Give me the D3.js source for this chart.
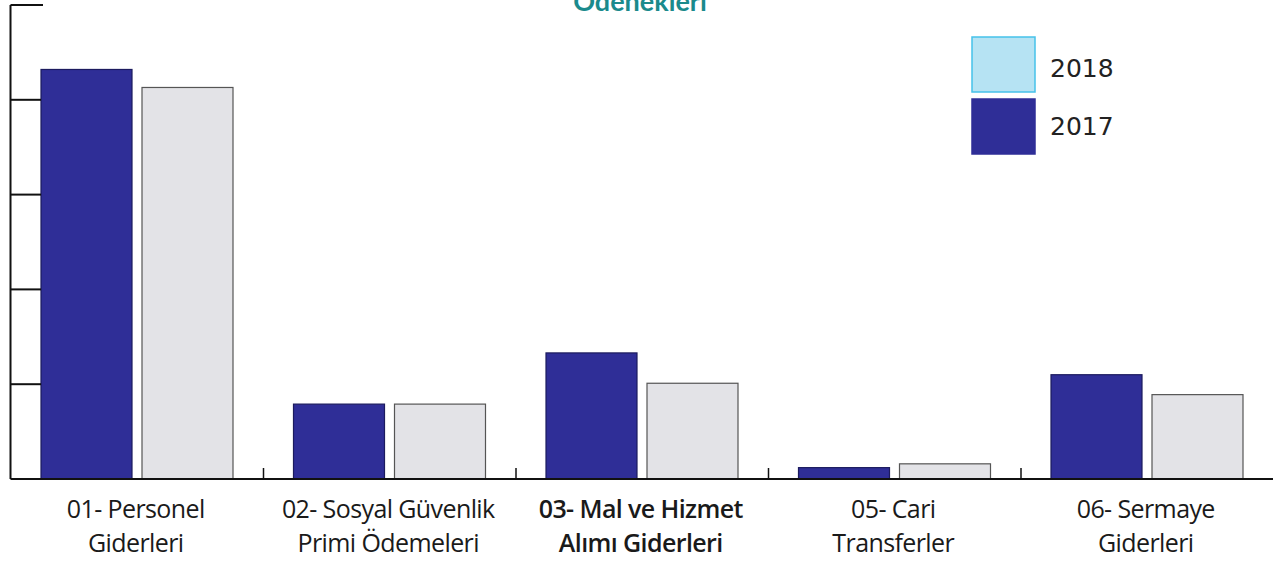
<!DOCTYPE html>
<html>
<head>
<meta charset="utf-8">
<script src="https://cdn.jsdelivr.net/npm/d3@7"></script>
<style>
  body { margin: 0; background: #fff; }
  svg { display: block; }
</style>
</head>
<body>
<svg id="chart" width="1273" height="565"></svg>
<script>
// categories and values (no y labels in the original, read in tick units)
const categories = [
  ['01- Personel', 'Giderleri'],
  ['02- Sosyal Güvenlik', 'Primi Ödemeleri'],
  ['03- Mal ve Hizmet', 'Alımı Giderleri'],
  ['05- Cari', 'Transferler'],
  ['06- Sermaye', 'Giderleri']
];
const boldCategory = 2;
const values2017 = [4.32, 0.79, 1.33, 0.12, 1.10];
const values2018 = [4.13, 0.79, 1.01, 0.16, 0.89];
const yTicks = [0, 1, 2, 3, 4, 5];
const legendItems = ['2018', '2017'];

const svg = d3.select('#chart');

const x0 = d3.scaleBand()
  .domain(d3.range(categories.length))
  .range([10.5, 1273])
  .paddingInner(0)
  .paddingOuter(0);

const y = d3.scaleLinear()
  .domain([0, 5])
  .range([479, 5]);

// title, cut at the top edge like the source
svg.append('text')
  .attr('x', 640)
  .attr('y', 11)
  .attr('text-anchor', 'middle')
  .attr('font-family', 'Lato, sans-serif')
  .attr('font-weight', 'bold')
  .attr('font-size', 27)
  .attr('fill', '#1b8a8c')
  .text('Ödenekleri');

// bars
const barW = 91;
const gap = 10;
const groupOffset = 30.5;

const groups = svg.selectAll('g.cat')
  .data(categories.map((c, i) => ({ i, v17: values2017[i], v18: values2018[i] })))
  .enter()
  .append('g')
  .attr('class', 'cat')
  .attr('transform', d => `translate(${x0(d.i)},0)`);

groups.append('rect')
  .attr('x', groupOffset)
  .attr('y', d => y(d.v17))
  .attr('width', barW)
  .attr('height', d => y(0) - y(d.v17))
  .attr('fill', '#2f2e97')
  .attr('stroke', '#1c1b5e')
  .attr('stroke-width', 1.2);

groups.append('rect')
  .attr('x', groupOffset + barW + gap)
  .attr('y', d => y(d.v18))
  .attr('width', barW)
  .attr('height', d => y(0) - y(d.v18))
  .attr('fill', '#e3e3e7')
  .attr('stroke', '#555')
  .attr('stroke-width', 1.2);

// y axis: line with left-to-bar ticks
const yAxis = svg.append('g');
yAxis.append('line')
  .attr('x1', 10.5).attr('x2', 10.5)
  .attr('y1', y(5)).attr('y2', y(0))
  .attr('stroke', '#111').attr('stroke-width', 2);
yAxis.selectAll('line.tick')
  .data(yTicks.filter(t => t > 0))
  .enter()
  .append('line')
  .attr('class', 'tick')
  .attr('x1', 10.5)
  .attr('x2', t => t === 5 ? 43 : 41)
  .attr('y1', t => y(t))
  .attr('y2', t => y(t))
  .attr('stroke', '#111')
  .attr('stroke-width', 2);

// x axis baseline with category separators
svg.append('line')
  .attr('x1', 10.5).attr('x2', 1273)
  .attr('y1', y(0)).attr('y2', y(0))
  .attr('stroke', '#111').attr('stroke-width', 2);
svg.selectAll('line.sep')
  .data(d3.range(1, categories.length))
  .enter()
  .append('line')
  .attr('class', 'sep')
  .attr('x1', i => x0(i) + 0.5).attr('x2', i => x0(i) + 0.5)
  .attr('y1', y(0)).attr('y2', y(0) - 11)
  .attr('stroke', '#111').attr('stroke-width', 1.5);

// category labels
const labels = svg.selectAll('text.cat')
  .data(categories)
  .enter()
  .append('text')
  .attr('class', 'cat')
  .attr('text-anchor', 'middle')
  .attr('font-family', '"Open Sans", sans-serif')
  .attr('font-size', 25)
  .attr('font-weight', (d, i) => i === boldCategory ? 600 : 400)
  .attr('fill', '#1a1a1a')
  .attr('letter-spacing', -0.6);

labels.each(function(d, i) {
  const t = d3.select(this);
  const cx = x0(i) + x0.bandwidth() / 2 - 1;
  d.forEach((line, k) => {
    t.append('tspan')
      .attr('x', cx)
      .attr('y', 518 + k * 34)
      .text(line);
  });
});

// legend
const legendColors = { '2018': ['#b6e3f3', '#46c2ea'], '2017': ['#2f2e97', '#2f2e97'] };
const legend = svg.append('g').attr('transform', 'translate(972,37)');
legendItems.forEach((k, i) => {
  legend.append('rect')
    .attr('x', 0)
    .attr('y', i * 62)
    .attr('width', 63)
    .attr('height', 55)
    .attr('fill', legendColors[k][0])
    .attr('stroke', legendColors[k][1])
    .attr('stroke-width', 1.5);
  legend.append('text')
    .attr('x', 78)
    .attr('y', i * 58 + 40)
    .attr('font-family', '"DejaVu Sans", sans-serif')
    .attr('font-size', 25)
    .attr('fill', '#222')
    .text(k);
});
</script>
</body>
</html>
